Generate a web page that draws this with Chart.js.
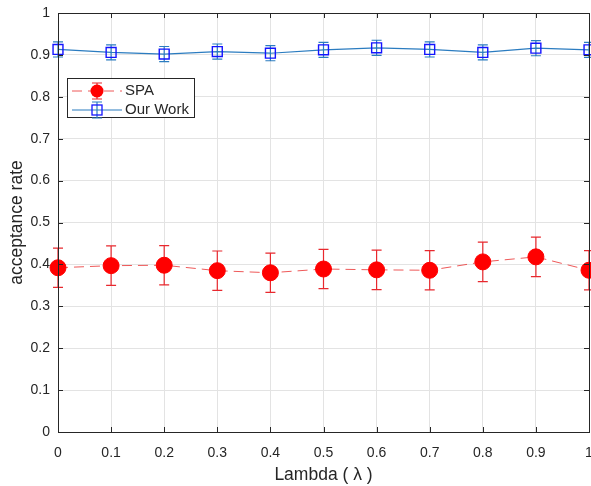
<!DOCTYPE html>
<html>
<head>
<meta charset="utf-8">
<script src="https://cdn.jsdelivr.net/npm/chart.js@4.4.1/dist/chart.umd.min.js"></script>
<style>
  html, body { margin: 0; padding: 0; background: #fff; }
  #wrap { width: 591px; height: 486px; position: relative; }
</style>
</head>
<body>
<div id="wrap"><canvas id="rateChart"></canvas></div>
<script>
Chart.defaults.font.family = 'Arial, "Liberation Sans", sans-serif';
Chart.defaults.color = '#262626';

// lambda sweep
const lambdas = [0, 0.1, 0.2, 0.3, 0.4, 0.5, 0.6, 0.7, 0.8, 0.9, 1];
// acceptance rate, mean and error half-width
const spaRate = [0.392, 0.397, 0.398, 0.385, 0.380, 0.389, 0.387, 0.386, 0.406, 0.418, 0.386];
const spaErr  = [0.047, 0.047, 0.047, 0.047, 0.047, 0.047, 0.047, 0.047, 0.047, 0.047, 0.047];
const ourRate = [0.913, 0.906, 0.902, 0.908, 0.904, 0.912, 0.917, 0.913, 0.906, 0.916, 0.912];
const ourErr  = [0.018, 0.018, 0.018, 0.018, 0.018, 0.018, 0.018, 0.018, 0.018, 0.018, 0.018];
const xTicks = ['0', '0.1', '0.2', '0.3', '0.4', '0.5', '0.6', '0.7', '0.8', '0.9', '1'];
const yTicks = ['0', '0.1', '0.2', '0.3', '0.4', '0.5', '0.6', '0.7', '0.8', '0.9', '1'];

const SPA_LINE = 'rgba(235,60,60,0.85)';
const SPA_MARK = '#ff0000';
const OUR_LINE = '#2b7cc0';
const OUR_MARK = '#1414ff';
const AXIS = '#262626';

function pts(ys) {
    return lambdas.map(function (x, i) { return { x: x, y: ys[i] }; });
}

function drawBar(ctx, x, yTop, yBot, cap, color) {
    ctx.strokeStyle = color;
    ctx.lineWidth = 1.2;
    ctx.setLineDash([]);
    ctx.beginPath();
    ctx.moveTo(x, yTop); ctx.lineTo(x, yBot);
    ctx.moveTo(x - cap, yTop); ctx.lineTo(x + cap, yTop);
    ctx.moveTo(x - cap, yBot); ctx.lineTo(x + cap, yBot);
    ctx.stroke();
}

// error bars under the markers
const errorBars = {
    id: 'errorBars',
    beforeDatasetsDraw: function (chart) {
        const ctx = chart.ctx, xs = chart.scales.x, ys = chart.scales.y;
        ctx.save();
        lambdas.forEach(function (l, i) {
            const px = xs.getPixelForValue(l);
            drawBar(ctx, px, ys.getPixelForValue(spaRate[i] + spaErr[i]), ys.getPixelForValue(spaRate[i] - spaErr[i]), 5, '#e8282e');
            drawBar(ctx, px, ys.getPixelForValue(ourRate[i] + ourErr[i]), ys.getPixelForValue(ourRate[i] - ourErr[i]), 5, OUR_LINE);
        });
        ctx.restore();
    }
};

// box, inward ticks and legend
const axesBox = {
    id: 'axesBox',
    afterDraw: function (chart) {
        const ctx = chart.ctx, a = chart.chartArea, xs = chart.scales.x, ys = chart.scales.y;
        ctx.save();
        ctx.strokeStyle = AXIS;
        ctx.lineWidth = 1;
        ctx.setLineDash([]);
        ctx.beginPath();
        lambdas.forEach(function (l) {
            const px = Math.round(xs.getPixelForValue(l)) + 0.5;
            ctx.moveTo(px, a.bottom); ctx.lineTo(px, a.bottom - 5);
            ctx.moveTo(px, a.top); ctx.lineTo(px, a.top + 5);
        });
        yTicks.forEach(function (t) {
            const py = Math.round(ys.getPixelForValue(parseFloat(t))) + 0.5;
            ctx.moveTo(a.left, py); ctx.lineTo(a.left + 5, py);
            ctx.moveTo(a.right, py); ctx.lineTo(a.right - 5, py);
        });
        ctx.stroke();
        ctx.strokeRect(Math.round(a.left) + 0.5, Math.round(a.top) + 0.5, Math.round(a.right - a.left), Math.round(a.bottom - a.top));

        // legend
        const lx = 67.5, ly = 78.5, lw = 127, lh = 39;
        ctx.fillStyle = '#fff';
        ctx.fillRect(lx, ly, lw, lh);
        ctx.strokeStyle = AXIS;
        ctx.strokeRect(lx, ly, lw, lh);
        const r1 = 91, r2 = 110, mx = 97;
        ctx.lineWidth = 1;
        ctx.strokeStyle = SPA_LINE;
        ctx.setLineDash([10, 6]);
        ctx.beginPath(); ctx.moveTo(72, r1); ctx.lineTo(122, r1); ctx.stroke();
        ctx.setLineDash([]);
        drawBar(ctx, mx, r1 - 8, r1 + 8, 5, '#e8282e');
        ctx.fillStyle = SPA_MARK;
        ctx.beginPath(); ctx.arc(mx, r1, 6.5, 0, Math.PI * 2); ctx.fill();
        ctx.strokeStyle = OUR_LINE;
        ctx.lineWidth = 1.2;
        ctx.beginPath(); ctx.moveTo(72, r2); ctx.lineTo(122, r2); ctx.stroke();
        drawBar(ctx, mx, r2 - 8, r2 + 8, 5, OUR_LINE);
        ctx.strokeStyle = OUR_MARK;
        ctx.lineWidth = 1.3;
        ctx.strokeRect(mx - 5, r2 - 5, 10, 10);
        ctx.fillStyle = AXIS;
        ctx.font = '15px Arial, "Liberation Sans", sans-serif';
        ctx.textAlign = 'left';
        ctx.textBaseline = 'middle';
        ctx.fillText('SPA', 125, r1);
        ctx.fillText('Our Work', 125, r2);
        ctx.restore();
    }
};

const ctx = document.getElementById('rateChart');
const rateChart = new Chart(ctx, {
    type: 'line',
    plugins: [errorBars, axesBox],
    data: {
        datasets: [
            {
                label: 'SPA',
                data: pts(spaRate),
                borderColor: SPA_LINE,
                borderWidth: 1,
                borderDash: [10, 6],
                pointStyle: 'circle',
                pointRadius: 8,
                pointBackgroundColor: SPA_MARK,
                pointBorderColor: SPA_MARK,
                pointBorderWidth: 1,
                clip: false,
            },
            {
                label: 'Our Work',
                data: pts(ourRate),
                borderColor: OUR_LINE,
                borderWidth: 1.2,
                pointStyle: 'rect',
                pointRadius: 7,
                pointBackgroundColor: 'rgba(0,0,0,0)',
                pointBorderColor: OUR_MARK,
                pointBorderWidth: 1.4,
                clip: false,
            },
        ]
    },
    options: {
        responsive: true,
        maintainAspectRatio: false,
        animation: false,
        events: [],
        layout: {
            autoPadding: false,
            padding: { left: 7, top: 13, right: 2, bottom: 0 },
        },
        plugins: {
            legend: { display: false },
            tooltip: { enabled: false },
        },
        elements: {
            line: { tension: 0 },
        },
        scales: {
            x: {
                type: 'linear',
                min: 0,
                max: 1,
                afterFit: function (s) { s.height = 54; s.paddingLeft = 0; s.paddingRight = 0; },
                afterBuildTicks: function (s) { s.ticks = lambdas.map(function (v) { return { value: v }; }); },
                ticks: {
                    padding: 13,
                    maxRotation: 0,
                    font: { size: 14 },
                    callback: function (v, i) { return xTicks[i]; },
                },
                grid: { color: '#e3e3e3', drawTicks: false },
                border: { display: false },
                title: {
                    display: true,
                    text: 'Lambda ( λ )',
                    font: { size: 17.5 },
                    padding: 0,
                },
            },
            y: {
                min: 0,
                max: 1,
                afterFit: function (s) { s.width = 51; s.paddingTop = 0; s.paddingBottom = 0; },
                afterBuildTicks: function (s) { s.ticks = yTicks.map(function (v) { return { value: parseFloat(v) }; }); },
                ticks: {
                    padding: 8,
                    font: { size: 14 },
                    callback: function (v, i) { return yTicks[i]; },
                },
                grid: { color: '#e3e3e3', drawTicks: false },
                border: { display: false },
                title: {
                    display: true,
                    text: 'acceptance rate',
                    font: { size: 17.5 },
                    padding: 0,
                },
            },
        },
    },
});
</script>
</body>
</html>
